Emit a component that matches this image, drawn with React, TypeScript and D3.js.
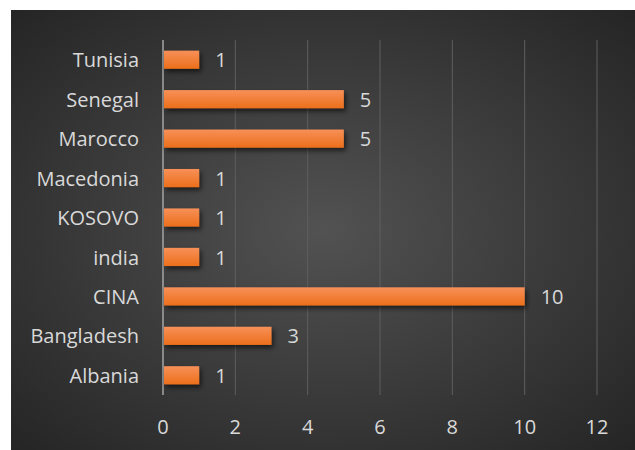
import React from "react";
import * as d3 from "d3";

const countries = ["Tunisia", "Senegal", "Marocco", "Macedonia", "KOSOVO", "india", "CINA", "Bangladesh", "Albania"];
const counts = [1, 5, 5, 1, 1, 1, 10, 3, 1];
const xTicks = [0, 2, 4, 6, 8, 10, 12];

export default function App() {
  const W = 635;
  const H = 450;
  const plot = { left: 163, right: 597, top: 40, bottom: 395 };

  const x = d3.scaleLinear().domain([0, 12]).range([plot.left, plot.right]);
  const y = d3.scaleBand<string>().domain(countries).range([plot.top, plot.bottom]).paddingInner(0.54).paddingOuter(0.27);
  const font = "'Open Sans', sans-serif";

  return (
    <svg width={W} height={H} style={{ position: "absolute", left: 0, top: 0 }}>
      <defs>
        <radialGradient id="bg" cx="50%" cy="50%" r="75%">
          <stop offset="0%" stopColor="#525252" />
          <stop offset="100%" stopColor="#222222" />
        </radialGradient>
        <linearGradient id="bar" x1="0" y1="0" x2="0" y2="1">
          <stop offset="0%" stopColor="#f79058" />
          <stop offset="100%" stopColor="#ec6f1b" />
        </linearGradient>
        <filter id="shadow" x="-10%" y="-50%" width="130%" height="250%">
          <feDropShadow dx="2" dy="3" stdDeviation="2.5" floodColor="#000" floodOpacity="0.6" />
        </filter>
      </defs>
      <rect x={0} y={0} width={W} height={H} fill="#ffffff" />
      <rect x={11} y={10} width={W - 11} height={H - 10} fill="url(#bg)" />

      {xTicks.slice(1).map(t => (
        <line key={t} x1={x(t)} x2={x(t)} y1={plot.top} y2={plot.bottom} stroke="#5e5e5e" strokeWidth={1} />
      ))}
      <line x1={x(0)} x2={x(0)} y1={plot.top} y2={plot.bottom} stroke="#a6a6a6" strokeWidth={1.5} />

      {countries.map((c, i) => {
        const yy = y(c)!;
        const bh = y.bandwidth();
        return (
          <g key={c}>
            <rect x={x(0) + 1} y={yy} width={x(counts[i]) - x(0) - 1} height={bh} fill="url(#bar)" filter="url(#shadow)" />
            <text x={x(counts[i]) + 16} y={yy + bh / 2} dy="0.38em" fill="#d9d9d9" fontSize={20} fontFamily={font}>
              {counts[i]}
            </text>
            <text x={plot.left - 24} y={yy + bh / 2} dy="0.38em" textAnchor="end" fill="#d9d9d9" fontSize={20} fontFamily={font}>
              {c}
            </text>
          </g>
        );
      })}

      {xTicks.map(t => (
        <text key={t} x={x(t)} y={427} dy="0.35em" textAnchor="middle" fill="#d9d9d9" fontSize={20} fontFamily={font}>
          {t}
        </text>
      ))}
    </svg>
  );
}
